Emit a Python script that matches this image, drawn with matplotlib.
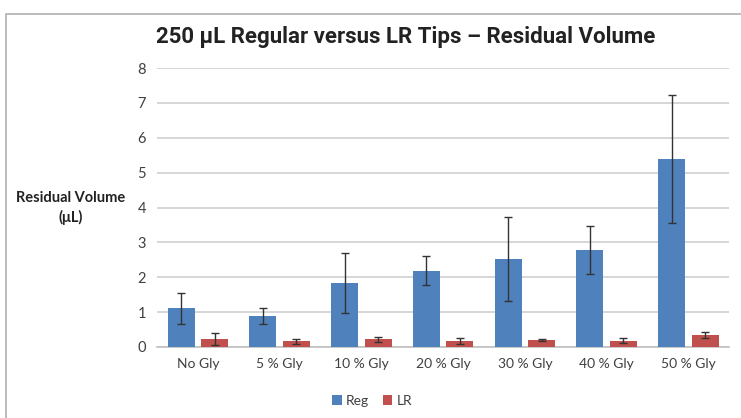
import numpy as np
import matplotlib
matplotlib.use("Agg")
import matplotlib.pyplot as plt
from matplotlib.patches import Rectangle

categories = ["No Gly", "5 % Gly", "10 % Gly", "20 % Gly", "30 % Gly", "40 % Gly", "50 % Gly"]
reg_values = [1.11, 0.89, 1.83, 2.19, 2.52, 2.78, 5.40]
reg_err = [0.44, 0.22, 0.86, 0.42, 1.20, 0.69, 1.83]
lr_values = [0.23, 0.16, 0.22, 0.18, 0.20, 0.18, 0.34]
lr_err = [0.17, 0.07, 0.07, 0.09, 0.04, 0.08, 0.09]

REG_COLOR = "#4F81BD"
LR_COLOR = "#C0504D"

plt.rcParams["font.family"] = ["Lato", "DejaVu Sans"]

fig = plt.figure(figsize=(7.41, 4.18), dpi=100)
ax = fig.add_axes([0.212, 0.170, 0.772, 0.667])

# outer chart frame
fig.patches.append(Rectangle((6 / 741, -0.1), 1.1, 1.1 - 14 / 418,
                             transform=fig.transFigure, fill=False,
                             edgecolor="#b0b0b0", linewidth=1.2))

x = np.arange(len(categories))
width = 0.33
off = 0.205
ebar = dict(ecolor="#333333", elinewidth=1, capsize=3, capthick=1)
ax.bar(x - off, reg_values, width, color=REG_COLOR, yerr=reg_err,
       error_kw=ebar, label="Reg", zorder=3)
ax.bar(x + off, lr_values, width, color=LR_COLOR, yerr=lr_err,
       error_kw=ebar, label="LR", zorder=3)

ax.set_xlim(-0.5, len(categories) - 0.5)
ax.set_ylim(0, 8)
ax.set_yticks(range(0, 9))
ax.yaxis.grid(True, color="#d0d0d0", linewidth=1.2, zorder=0)
ax.set_axisbelow(True)
for s in ["top", "right", "left"]:
    ax.spines[s].set_visible(False)
ax.spines["bottom"].set_color("#c0c0c0")
ax.spines["bottom"].set_linewidth(1.2)
ax.tick_params(axis="both", length=0, labelsize=10.5, colors="#404040", pad=8)
ax.set_xticks(x)
ax.set_xticklabels(categories, fontsize=10)

fig.text(71 / 741, 1 - 208 / 418, "Residual Volume\n(μL)", ha="center", va="center",
         fontsize=10.5, fontweight="bold", color="#222222", linespacing=1.45)

fig.text(406 / 741, 1 - 37 / 418, "250 μL Regular versus LR Tips – Residual Volume",
         ha="center", va="center", fontsize=16, fontweight="bold",
         family=["Roboto", "DejaVu Sans"], color="#222222")

fig.legend(loc="center", bbox_to_anchor=(372 / 741, 1 - 401 / 418), ncol=2,
           frameon=False, fontsize=10, handlelength=0.7, handleheight=0.7,
           handletextpad=0.3, columnspacing=1.0, labelcolor="#404040")

fig.savefig("out.png", dpi=100)
